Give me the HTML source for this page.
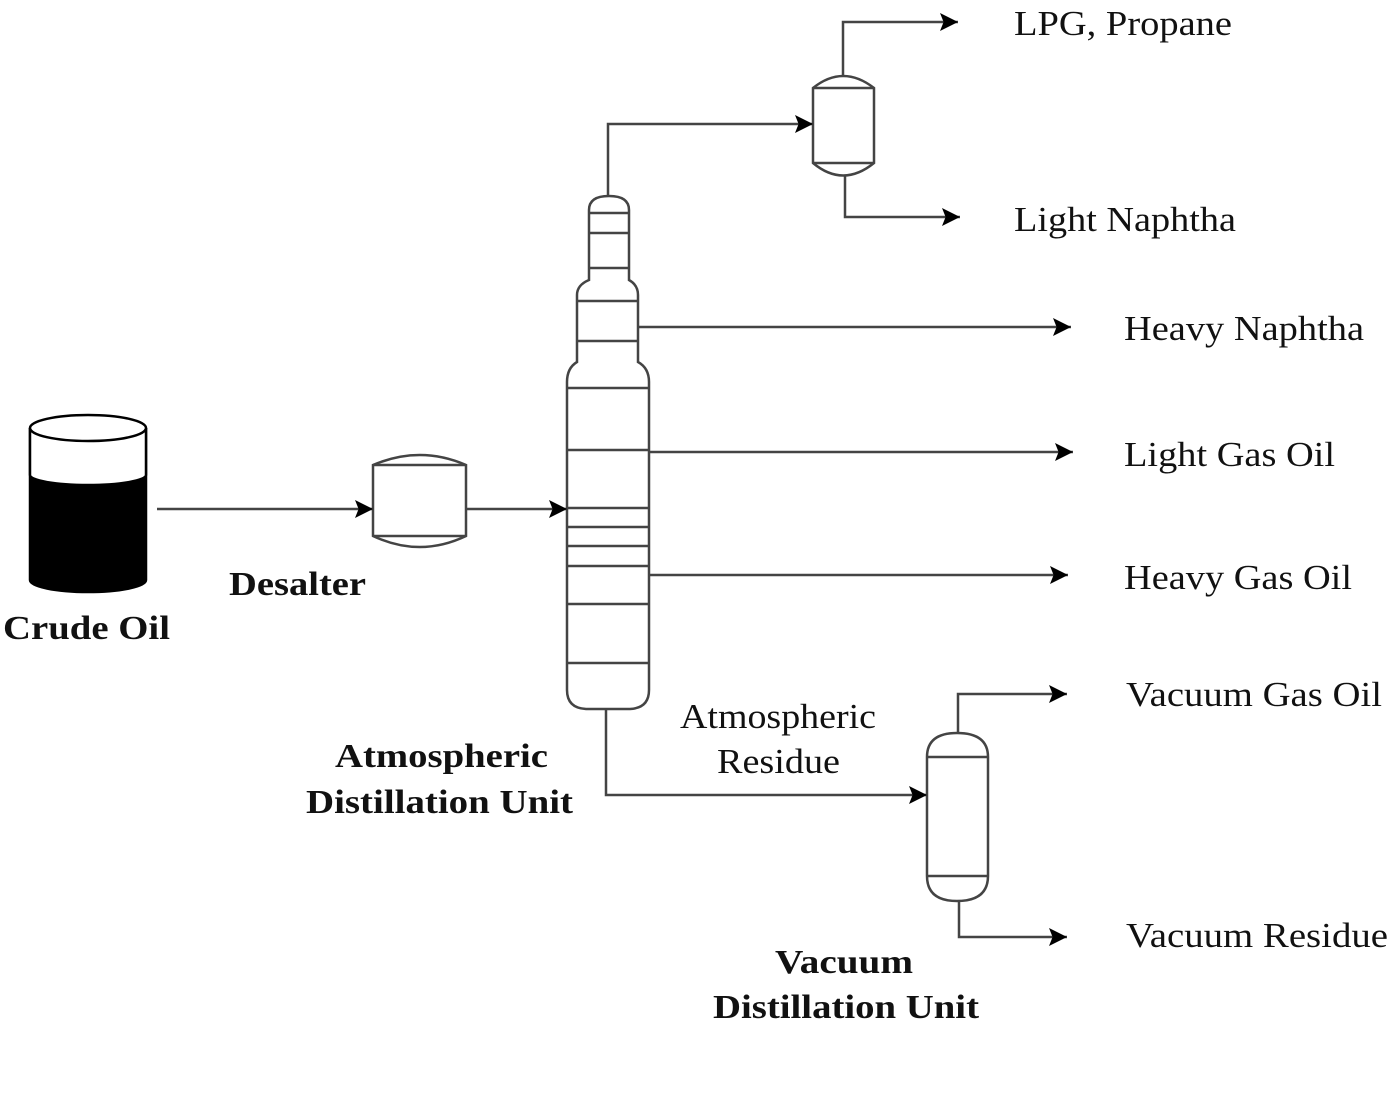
<!DOCTYPE html>
<html><head><style>
html,body{margin:0;padding:0;background:#fff;}
svg{display:block;}
text{font-family:"Liberation Serif",serif;fill:#111;}
.b{font-weight:bold;font-size:34px;}
.r{font-size:35px;}
</style></head><body>
<svg width="1391" height="1097" viewBox="0 0 1391 1097" xmlns="http://www.w3.org/2000/svg">
<defs>
<marker id="a" viewBox="0 0 10 10" refX="10" refY="5" markerWidth="18" markerHeight="18" markerUnits="userSpaceOnUse" orient="auto">
<path d="M0,0 L10,5 L0,10 L2,5 z" fill="#000"/></marker>
</defs>
<g fill="none" stroke="#444" stroke-width="2.5">
<path d="M30,428 V580 A58,12 0 0 0 146,580 V428" fill="#000" stroke="#000"/>
<path d="M30,428 V475 A58,10 0 0 0 146,475 V428" fill="#fff" stroke="#000"/>
<ellipse cx="88" cy="428" rx="58" ry="13" fill="#fff" stroke="#000"/>
<path d="M373,465 Q420,445 466,465 V536 Q420,558 373,536 Z" fill="#fff"/>
<path d="M373,465 H466 M373,536 H466"/>
<path d="M589,210 Q589,196 609,196 Q629,196 629,210 V280 Q638,285 638,295 V362 Q649,368 649,382 V690 Q649,708 630,709 H586 Q567,708 567,690 V382 Q567,368 577,362 V295 Q577,285 589,280 Z" fill="#fff"/>
<path d="M589,213 H629 M589,233 H629 M589,268 H629 M577,301 H638 M577,341 H638 M567,388 H649 M567,450 H649 M567,508 H649 M567,527 H649 M567,546 H649 M567,566 H649 M567,604 H649 M567,663 H649"/>
<path d="M813,88 Q843,64 874,88 V163 Q843,188 813,163 Z" fill="#fff"/>
<path d="M813,88 H874 M813,163 H874"/>
<path d="M927,757 Q927,733 957,733 Q988,733 988,757 V876 Q988,901 957,901 Q927,901 927,876 Z" fill="#fff"/>
<path d="M927,757 H988 M927,876 H988"/>
</g>
<g fill="none" stroke="#444" stroke-width="2.5" marker-end="url(#a)">
<path d="M157,509 H373"/>
<path d="M466,509 H567"/>
<path d="M608,196 V124 H813"/>
<path d="M843,75 V22 H958"/>
<path d="M845,175 V217 H960"/>
<path d="M638,327 H1071"/>
<path d="M649,452 H1073"/>
<path d="M649,575 H1068"/>
<path d="M606,709 V795 H927"/>
<path d="M958,733 V694 H1067"/>
<path d="M959,901 V937 H1067"/>
</g>
<g lengthAdjust="spacingAndGlyphs">
<text class="b" x="3" y="639" textLength="167" lengthAdjust="spacingAndGlyphs">Crude Oil</text>
<text class="b" x="229" y="595" textLength="137" lengthAdjust="spacingAndGlyphs">Desalter</text>
<text class="b" x="335" y="767" textLength="213" lengthAdjust="spacingAndGlyphs">Atmospheric</text>
<text class="b" x="306" y="813" textLength="267" lengthAdjust="spacingAndGlyphs">Distillation Unit</text>
<text class="b" x="775" y="973" textLength="138" lengthAdjust="spacingAndGlyphs">Vacuum</text>
<text class="b" x="713" y="1018" textLength="266" lengthAdjust="spacingAndGlyphs">Distillation Unit</text>
<text class="r" x="680" y="728" textLength="196" lengthAdjust="spacingAndGlyphs">Atmospheric</text>
<text class="r" x="717" y="773" textLength="123" lengthAdjust="spacingAndGlyphs">Residue</text>
<text class="r" x="1014" y="35" textLength="218" lengthAdjust="spacingAndGlyphs">LPG, Propane</text>
<text class="r" x="1014" y="231" textLength="222" lengthAdjust="spacingAndGlyphs">Light Naphtha</text>
<text class="r" x="1124" y="340" textLength="240" lengthAdjust="spacingAndGlyphs">Heavy Naphtha</text>
<text class="r" x="1124" y="466" textLength="211" lengthAdjust="spacingAndGlyphs">Light Gas Oil</text>
<text class="r" x="1124" y="589" textLength="228" lengthAdjust="spacingAndGlyphs">Heavy Gas Oil</text>
<text class="r" x="1126" y="706" textLength="256" lengthAdjust="spacingAndGlyphs">Vacuum Gas Oil</text>
<text class="r" x="1126" y="947" textLength="262" lengthAdjust="spacingAndGlyphs">Vacuum Residue</text>
</g>
</svg>
</body></html>
